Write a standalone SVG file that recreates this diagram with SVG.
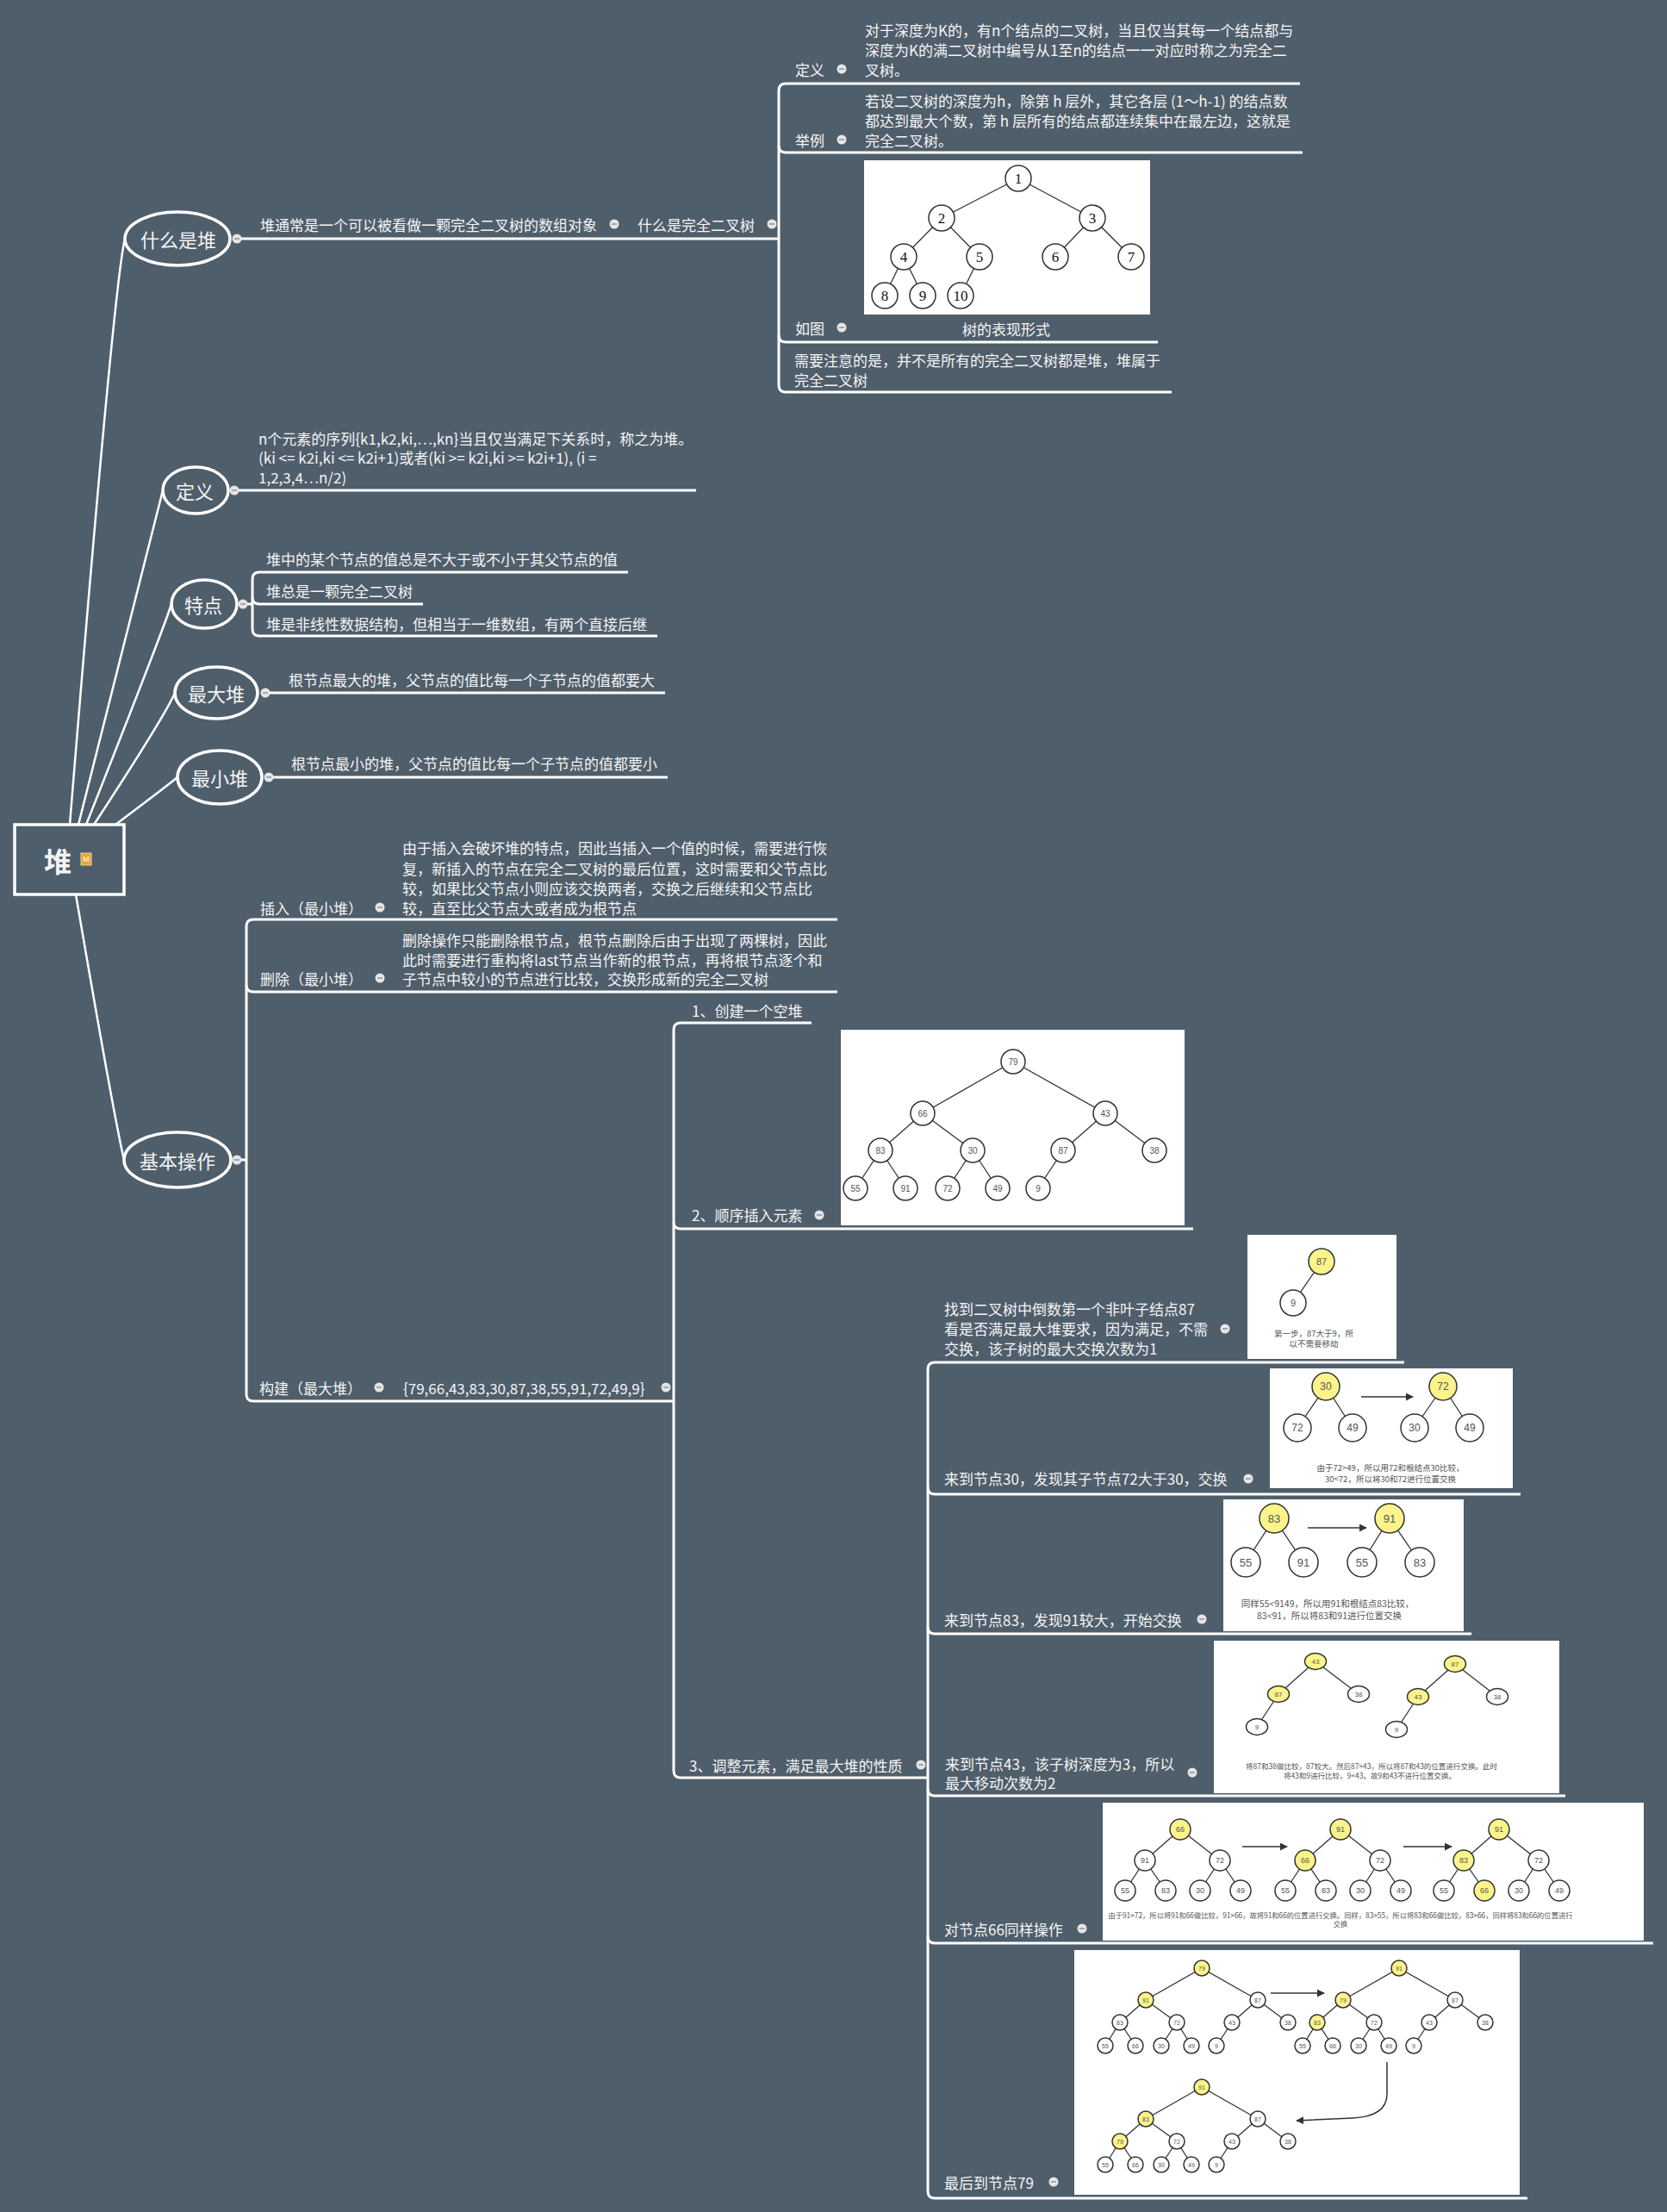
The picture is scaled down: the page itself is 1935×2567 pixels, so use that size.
<svg xmlns="http://www.w3.org/2000/svg" width="1935" height="2567" viewBox="0 0 1935 2567">
<defs>
<style>
.t{font-family:"Noto Sans CJK SC","Liberation Sans",sans-serif;fill:#f4f4f4;font-size:17px;dominant-baseline:central}
.s17{font-size:17px}
.l1{font-size:22px;text-anchor:middle}
.ln{stroke:#fff;stroke-width:3;fill:none}
.rl{stroke:#fff;stroke-width:2.5;fill:none}
.ell{stroke:#fff;stroke-width:3.5;fill:none}
.img{fill:#fff}
.e{stroke:#333;stroke-width:1.3}
.c{fill:#fff;stroke:#333;stroke-width:1.5}
.y{fill:#fbf48a;stroke:#333;stroke-width:1.5}
.n{font-family:"Liberation Sans",sans-serif;fill:#555;text-anchor:middle;dominant-baseline:central}
.tn{font-family:"Liberation Serif",serif;fill:#111;font-size:17px;text-anchor:middle;dominant-baseline:central}
.cap{font-family:"Noto Sans CJK SC","Liberation Sans",sans-serif;fill:#555;text-anchor:middle;dominant-baseline:central}
.ar{stroke:#333;stroke-width:1.5;fill:none}
</style>
<g id="dot"><circle r="5.5" fill="#e6e6e6"/><line x1="-3" x2="3" stroke="#8a95a0" stroke-width="1.5"/></g>
<marker id="ah" viewBox="0 0 10 10" refX="9" refY="5" markerWidth="6" markerHeight="6" orient="auto"><path d="M0,0 L10,5 L0,10 z" fill="#333"/></marker>
<g id="fe" class="e">
<line x1="0" y1="0" x2="-65" y2="37"/><line x1="0" y1="0" x2="65" y2="37"/>
<line x1="-65" y1="37" x2="-95" y2="63"/><line x1="-65" y1="37" x2="-29" y2="63"/>
<line x1="65" y1="37" x2="35" y2="63"/><line x1="65" y1="37" x2="100" y2="63"/>
<line x1="-95" y1="63" x2="-112" y2="90"/><line x1="-95" y1="63" x2="-77" y2="90"/>
<line x1="-29" y1="63" x2="-47" y2="90"/><line x1="-29" y1="63" x2="-12" y2="90"/>
<line x1="35" y1="63" x2="17" y2="90"/>
</g>
<g id="ee" class="e">
<line x1="0" y1="0" x2="-41" y2="36"/><line x1="0" y1="0" x2="46" y2="36"/>
<line x1="-41" y1="36" x2="-64" y2="71"/><line x1="-41" y1="36" x2="-17" y2="71"/>
<line x1="46" y1="36" x2="23" y2="71"/><line x1="46" y1="36" x2="70" y2="71"/>
</g>
</defs>
<rect width="1935" height="2567" fill="#4f5e6b"/>

<g id="connectors">
<path class="rl" d="M81,957 Q132,330 145,277"/>
<path class="rl" d="M91,957 Q178,610 189,569"/>
<path class="rl" d="M100,957 Q188,735 199,701"/>
<path class="rl" d="M109,957 Q192,830 203,804"/>
<path class="rl" d="M134,957 Q190,915 206,902"/>
<path class="rl" d="M88,1038 Q133,1300 144,1346"/>
<path class="ln" d="M280,277 H904"/>
<path class="ln" d="M1509,97 H912 Q904,97 904,105 V447 Q904,455 912,455 H1360"/>
<path class="ln" d="M904,169 Q904,177 912,177 H1512"/>
<path class="ln" d="M904,389 Q904,397 912,397 H1344"/>
<path class="ln" d="M277,569 H808"/>
<path class="ln" d="M287,701 H293"/>
<path class="ln" d="M729,664 H301 Q293,664 293,672 V730 Q293,738 301,738 H763"/>
<path class="ln" d="M293,693 Q293,701 301,701 H491"/>
<path class="ln" d="M313,804 H772"/>
<path class="ln" d="M317,902 H775"/>
<path class="ln" d="M280,1346 H286"/>
<path class="ln" d="M972,1067 H294 Q286,1067 286,1075 V1618 Q286,1626 294,1626 H782"/>
<path class="ln" d="M286,1143 Q286,1151 294,1151 H972"/>
<path class="ln" d="M942,1187 H790 Q782,1187 782,1195 V2055 Q782,2063 790,2063 H1077"/>
<path class="ln" d="M782,1418 Q782,1426 790,1426 H1385"/>
<path class="ln" d="M1630,1581 H1085 Q1077,1581 1077,1589 V2543 Q1077,2551 1085,2551 H1773"/>
<path class="ln" d="M1077,1726 Q1077,1734 1085,1734 H1765"/>
<path class="ln" d="M1077,1888 Q1077,1896 1085,1896 H1708"/>
<path class="ln" d="M1077,2076 Q1077,2084 1085,2084 H1817"/>
<path class="ln" d="M1077,2247 Q1077,2255 1085,2255 H1919"/>
</g>

<g id="root">
<rect x="17" y="957" width="127" height="81" fill="none" stroke="#fff" stroke-width="3.5"/>
<text x="67" y="998" class="t" style="font-size:32px;font-weight:bold" text-anchor="middle">堆</text>
<rect x="94" y="990" width="12" height="14" fill="#e9a43b" stroke="#f7d58a" stroke-width="1"/>
<text x="100" y="997" style="font-family:'Liberation Sans',sans-serif;font-size:9px;fill:#fff;dominant-baseline:central" text-anchor="middle">M</text>
</g>

<g id="n-shenmeshidui">
<ellipse class="ell" cx="206" cy="277" rx="61" ry="31"/>
<text class="t l1" x="207" y="277">什么是堆</text>
<use href="#dot" x="275" y="277"/>
</g>
<g id="n-duitongchang">
<text class="t s17" x="302" y="260">堆通常是一个可以被看做一颗完全二叉树的数组对象</text>
<use href="#dot" x="713" y="260"/>
</g>
<g id="n-wanquan">
<text class="t s17" x="740" y="260">什么是完全二叉树</text>
<use href="#dot" x="896" y="260"/>
</g>
<g id="n-def1">
<text class="t" x="923" y="80">定义</text>
<use href="#dot" x="977" y="80"/>
<text class="t" x="1004" y="34">对于深度为K的，有n个结点的二叉树，当且仅当其每一个结点都与</text>
<text class="t" x="1004" y="57">深度为K的满二叉树中编号从1至n的结点一一对应时称之为完全二</text>
<text class="t" x="1004" y="80">叉树。</text>
</g>
<g id="n-example">
<text class="t" x="923" y="162">举例</text>
<use href="#dot" x="977" y="162"/>
<text class="t" x="1004" y="116">若设二叉树的深度为h，除第 h 层外，其它各层 (1～h-1) 的结点数</text>
<text class="t" x="1004" y="139">都达到最大个数，第 h 层所有的结点都连续集中在最左边，这就是</text>
<text class="t" x="1004" y="162">完全二叉树。</text>
</g>
<g id="n-rutu">
<text class="t" x="923" y="380">如图</text>
<use href="#dot" x="977" y="380"/>
<rect class="img" x="1003" y="186" width="332" height="179"/>
<g class="e" stroke="#222">
<line x1="1182" y1="207" x2="1093" y2="253"/><line x1="1182" y1="207" x2="1268" y2="253"/>
<line x1="1093" y1="253" x2="1049" y2="298"/><line x1="1093" y1="253" x2="1137" y2="298"/>
<line x1="1268" y1="253" x2="1225" y2="298"/><line x1="1268" y1="253" x2="1313" y2="298"/>
<line x1="1049" y1="298" x2="1027" y2="343"/><line x1="1049" y1="298" x2="1071" y2="343"/>
<line x1="1137" y1="298" x2="1115" y2="343"/>
</g>
<g class="c" stroke="#222">
<circle cx="1182" cy="207" r="15"/><circle cx="1093" cy="253" r="15"/><circle cx="1268" cy="253" r="15"/>
<circle cx="1049" cy="298" r="15"/><circle cx="1137" cy="298" r="15"/><circle cx="1225" cy="298" r="15"/><circle cx="1313" cy="298" r="15"/>
<circle cx="1027" cy="343" r="15"/><circle cx="1071" cy="343" r="15"/><circle cx="1115" cy="343" r="15"/>
</g>
<text class="tn" x="1182" y="207">1</text><text class="tn" x="1093" y="253">2</text><text class="tn" x="1268" y="253">3</text>
<text class="tn" x="1049" y="298">4</text><text class="tn" x="1137" y="298">5</text><text class="tn" x="1225" y="298">6</text><text class="tn" x="1313" y="298">7</text>
<text class="tn" x="1027" y="343">8</text><text class="tn" x="1071" y="343">9</text><text class="tn" x="1115" y="343">10</text>
<text class="t" x="1168" y="381" text-anchor="middle">树的表现形式</text>
</g>
<g id="n-note">
<text class="t" x="922" y="417">需要注意的是，并不是所有的完全二叉树都是堆，堆属于</text>
<text class="t" x="922" y="440">完全二叉树</text>
</g>

<g id="n-dingyi">
<ellipse class="ell" cx="227" cy="569" rx="38" ry="27"/>
<text class="t l1" x="226" y="569">定义</text>
<use href="#dot" x="272" y="569"/>
<text class="t s17" x="300" y="508">n个元素的序列{k1,k2,ki,…,kn}当且仅当满足下关系时，称之为堆。</text>
<text class="t s17" x="300" y="530">(ki &lt;= k2i,ki &lt;= k2i+1)或者(ki &gt;= k2i,ki &gt;= k2i+1), (i =</text>
<text class="t s17" x="300" y="553">1,2,3,4…n/2)</text>
</g>

<g id="n-tedian">
<ellipse class="ell" cx="237" cy="701" rx="38" ry="28"/>
<text class="t l1" x="236" y="701">特点</text>
<use href="#dot" x="282" y="701"/>
<text class="t s17" x="309" y="648">堆中的某个节点的值总是不大于或不小于其父节点的值</text>
<text class="t s17" x="309" y="685">堆总是一颗完全二叉树</text>
<text class="t s17" x="309" y="723">堆是非线性数据结构，但相当于一维数组，有两个直接后继</text>
</g>

<g id="n-zuidadui">
<ellipse class="ell" cx="251" cy="804" rx="48" ry="30"/>
<text class="t l1" x="251" y="804">最大堆</text>
<use href="#dot" x="308" y="804"/>
<text class="t s17" x="335" y="788">根节点最大的堆，父节点的值比每一个子节点的值都要大</text>
</g>

<g id="n-zuixiaodui">
<ellipse class="ell" cx="255" cy="902" rx="49" ry="31"/>
<text class="t l1" x="255" y="902">最小堆</text>
<use href="#dot" x="312" y="902"/>
<text class="t s17" x="338" y="885">根节点最小的堆，父节点的值比每一个子节点的值都要小</text>
</g>

<g id="n-jibencaozuo">
<ellipse class="ell" cx="206" cy="1346" rx="62" ry="32"/>
<text class="t l1" x="206" y="1346">基本操作</text>
<use href="#dot" x="275" y="1346"/>
</g>

<g id="n-insert">
<text class="t s17" x="302" y="1053">插入（最小堆）</text>
<use href="#dot" x="441" y="1053"/>
<text class="t" x="467" y="983">由于插入会破坏堆的特点，因此当插入一个值的时候，需要进行恢</text>
<text class="t" x="467" y="1007">复，新插入的节点在完全二叉树的最后位置，这时需要和父节点比</text>
<text class="t" x="467" y="1030">较，如果比父节点小则应该交换两者，交换之后继续和父节点比</text>
<text class="t" x="467" y="1053">较，直至比父节点大或者成为根节点</text>
</g>
<g id="n-delete">
<text class="t s17" x="302" y="1135">删除（最小堆）</text>
<use href="#dot" x="441" y="1135"/>
<text class="t" x="467" y="1090">删除操作只能删除根节点，根节点删除后由于出现了两棵树，因此</text>
<text class="t" x="467" y="1113">此时需要进行重构将last节点当作新的根节点，再将根节点逐个和</text>
<text class="t" x="467" y="1135">子节点中较小的节点进行比较，交换形成新的完全二叉树</text>
</g>
<g id="n-build">
<text class="t s17" x="301" y="1610">构建（最大堆）</text>
<use href="#dot" x="440" y="1610"/>
<text class="t" x="468" y="1610">{79,66,43,83,30,87,38,55,91,72,49,9}</text>
<use href="#dot" x="773" y="1610"/>
</g>
<g id="n-step1">
<text class="t" x="803" y="1172">1、创建一个空堆</text>
</g>
<g id="n-step2">
<text class="t" x="803" y="1409">2、顺序插入元素</text>
<use href="#dot" x="951" y="1410"/>
<rect class="img" x="976" y="1195" width="399" height="227"/>
<g class="e">
<line x1="1176" y1="1232" x2="1071" y2="1292"/><line x1="1176" y1="1232" x2="1283" y2="1292"/>
<line x1="1071" y1="1292" x2="1022" y2="1335"/><line x1="1071" y1="1292" x2="1129" y2="1335"/>
<line x1="1283" y1="1292" x2="1234" y2="1335"/><line x1="1283" y1="1292" x2="1340" y2="1335"/>
<line x1="1022" y1="1335" x2="993" y2="1379"/><line x1="1022" y1="1335" x2="1051" y2="1379"/>
<line x1="1129" y1="1335" x2="1100" y2="1379"/><line x1="1129" y1="1335" x2="1158" y2="1379"/>
<line x1="1234" y1="1335" x2="1205" y2="1379"/>
</g>
<g class="c">
<circle cx="1176" cy="1232" r="14"/><circle cx="1071" cy="1292" r="14"/><circle cx="1283" cy="1292" r="14"/>
<circle cx="1022" cy="1335" r="14"/><circle cx="1129" cy="1335" r="14"/><circle cx="1234" cy="1335" r="14"/><circle cx="1340" cy="1335" r="14"/>
<circle cx="993" cy="1379" r="14"/><circle cx="1051" cy="1379" r="14"/><circle cx="1100" cy="1379" r="14"/><circle cx="1158" cy="1379" r="14"/><circle cx="1205" cy="1379" r="14"/>
</g>
<g class="n" style="font-size:10px">
<text x="1176" y="1232">79</text><text x="1071" y="1292">66</text><text x="1283" y="1292">43</text>
<text x="1022" y="1335">83</text><text x="1129" y="1335">30</text><text x="1234" y="1335">87</text><text x="1340" y="1335">38</text>
<text x="993" y="1379">55</text><text x="1051" y="1379">91</text><text x="1100" y="1379">72</text><text x="1158" y="1379">49</text><text x="1205" y="1379">9</text>
</g>
</g>
<g id="n-step3">
<text class="t" x="800" y="2048">3、调整元素，满足最大堆的性质</text>
<use href="#dot" x="1069" y="2048"/>
</g>

<g id="n-a">
<text class="t" x="1096" y="1518">找到二叉树中倒数第一个非叶子结点87</text>
<text class="t" x="1096" y="1541">看是否满足最大堆要求，因为满足，不需</text>
<text class="t" x="1096" y="1564">交换，该子树的最大交换次数为1</text>
<use href="#dot" x="1422" y="1542"/>
<rect class="img" x="1448" y="1433" width="173" height="144"/>
<line class="e" x1="1534" y1="1464" x2="1501" y2="1512"/>
<circle class="y" cx="1534" cy="1464" r="15"/><circle class="c" cx="1501" cy="1512" r="15"/>
<g class="n" style="font-size:11px"><text x="1534" y="1464">87</text><text x="1501" y="1512">9</text></g>
<g class="cap" style="font-size:9.5px"><text x="1525" y="1547">第一步，87大于9，所</text><text x="1525" y="1559">以不需要移动</text></g>
</g>

<g id="n-b">
<text class="t" x="1096" y="1715">来到节点30，发现其子节点72大于30，交换</text>
<use href="#dot" x="1449" y="1716"/>
<rect class="img" x="1474" y="1588" width="282" height="139"/>
<g class="e">
<line x1="1539" y1="1609" x2="1506" y2="1657"/><line x1="1539" y1="1609" x2="1570" y2="1657"/>
<line x1="1675" y1="1609" x2="1642" y2="1657"/><line x1="1675" y1="1609" x2="1706" y2="1657"/>
</g>
<line class="ar" x1="1580" y1="1621" x2="1640" y2="1621" marker-end="url(#ah)"/>
<circle class="y" cx="1539" cy="1609" r="16"/><circle class="c" cx="1506" cy="1657" r="16"/><circle class="c" cx="1570" cy="1657" r="16"/>
<circle class="y" cx="1675" cy="1609" r="16"/><circle class="c" cx="1642" cy="1657" r="16"/><circle class="c" cx="1706" cy="1657" r="16"/>
<g class="n" style="font-size:12px">
<text x="1539" y="1609">30</text><text x="1506" y="1657">72</text><text x="1570" y="1657">49</text>
<text x="1675" y="1609">72</text><text x="1642" y="1657">30</text><text x="1706" y="1657">49</text>
</g>
<g class="cap" style="font-size:9.5px"><text x="1614" y="1703">由于72&gt;49，所以用72和根结点30比较，</text><text x="1614" y="1716">30&lt;72，所以将30和72进行位置交换</text></g>
</g>

<g id="n-c">
<text class="t" x="1096" y="1879">来到节点83，发现91较大，开始交换</text>
<use href="#dot" x="1395" y="1879"/>
<rect class="img" x="1420" y="1740" width="279" height="153"/>
<g class="e">
<line x1="1479" y1="1762" x2="1446" y2="1813"/><line x1="1479" y1="1762" x2="1513" y2="1813"/>
<line x1="1613" y1="1762" x2="1581" y2="1813"/><line x1="1613" y1="1762" x2="1648" y2="1813"/>
</g>
<line class="ar" x1="1518" y1="1773" x2="1586" y2="1773" marker-end="url(#ah)"/>
<circle class="y" cx="1479" cy="1762" r="17"/><circle class="c" cx="1446" cy="1813" r="17"/><circle class="c" cx="1513" cy="1813" r="17"/>
<circle class="y" cx="1613" cy="1762" r="17"/><circle class="c" cx="1581" cy="1813" r="17"/><circle class="c" cx="1648" cy="1813" r="17"/>
<g class="n" style="font-size:13px">
<text x="1479" y="1762">83</text><text x="1446" y="1813">55</text><text x="1513" y="1813">91</text>
<text x="1613" y="1762">91</text><text x="1581" y="1813">55</text><text x="1648" y="1813">83</text>
</g>
<g class="cap" style="font-size:10.5px"><text x="1541" y="1860">同样55&lt;9149，所以用91和根结点83比较，</text><text x="1543" y="1874">83&lt;91，所以将83和91进行位置交换</text></g>
</g>

<g id="n-d">
<text class="t" x="1097" y="2046">来到节点43，该子树深度为3，所以</text>
<text class="t" x="1097" y="2068">最大移动次数为2</text>
<use href="#dot" x="1384" y="2057"/>
<rect class="img" x="1409" y="1904" width="401" height="177"/>
<g transform="translate(1527,1928)">
<g class="e"><line x1="0" y1="0" x2="-43" y2="38"/><line x1="0" y1="0" x2="50" y2="38"/><line x1="-43" y1="38" x2="-68" y2="76"/></g>
<ellipse class="y" cx="0" cy="0" rx="12.5" ry="9.5"/><ellipse class="y" cx="-43" cy="38" rx="12.5" ry="9.5"/><ellipse class="c" cx="50" cy="38" rx="12.5" ry="9.5"/><ellipse class="c" cx="-68" cy="76" rx="12.5" ry="9.5"/>
<g class="n" style="font-size:8px"><text x="0" y="0">43</text><text x="-43" y="38">87</text><text x="50" y="38">38</text><text x="-68" y="76">9</text></g>
</g>
<g transform="translate(1689,1931)">
<g class="e"><line x1="0" y1="0" x2="-43" y2="38"/><line x1="0" y1="0" x2="49" y2="38"/><line x1="-43" y1="38" x2="-68" y2="76"/></g>
<ellipse class="y" cx="0" cy="0" rx="12.5" ry="9.5"/><ellipse class="y" cx="-43" cy="38" rx="12.5" ry="9.5"/><ellipse class="c" cx="49" cy="38" rx="12.5" ry="9.5"/><ellipse class="c" cx="-68" cy="76" rx="12.5" ry="9.5"/>
<g class="n" style="font-size:8px"><text x="0" y="0">87</text><text x="-43" y="38">43</text><text x="49" y="38">38</text><text x="-68" y="76">9</text></g>
</g>
<g class="cap" style="font-size:8.5px"><text x="1592" y="2049">将87和38做比较，87较大。然后87&gt;43，所以将87和43的位置进行交换。此时</text><text x="1590" y="2060">将43和9进行比较，9&lt;43。故9和43不进行位置交换。</text></g>
</g>

<g id="n-e">
<text class="t" x="1096" y="2238">对节点66同样操作</text>
<use href="#dot" x="1256" y="2238"/>
<rect class="img" x="1280" y="2092" width="628" height="160"/>
<line class="ar" x1="1442" y1="2143" x2="1494" y2="2143" marker-end="url(#ah)"/>
<line class="ar" x1="1629" y1="2143" x2="1685" y2="2143" marker-end="url(#ah)"/>
<g transform="translate(1370,2123)">
<use href="#ee"/>
<circle class="y" cx="0" cy="0" r="12"/><circle class="c" cx="-41" cy="36" r="12"/><circle class="c" cx="46" cy="36" r="12"/>
<circle class="c" cx="-64" cy="71" r="12"/><circle class="c" cx="-17" cy="71" r="12"/><circle class="c" cx="23" cy="71" r="12"/><circle class="c" cx="70" cy="71" r="12"/>
<g class="n" style="font-size:9px"><text x="0" y="0">66</text><text x="-41" y="36">91</text><text x="46" y="36">72</text><text x="-64" y="71">55</text><text x="-17" y="71">83</text><text x="23" y="71">30</text><text x="70" y="71">49</text></g>
</g>
<g transform="translate(1556,2123)">
<use href="#ee"/>
<circle class="y" cx="0" cy="0" r="12"/><circle class="y" cx="-41" cy="36" r="12"/><circle class="c" cx="46" cy="36" r="12"/>
<circle class="c" cx="-64" cy="71" r="12"/><circle class="c" cx="-17" cy="71" r="12"/><circle class="c" cx="23" cy="71" r="12"/><circle class="c" cx="70" cy="71" r="12"/>
<g class="n" style="font-size:9px"><text x="0" y="0">91</text><text x="-41" y="36">66</text><text x="46" y="36">72</text><text x="-64" y="71">55</text><text x="-17" y="71">83</text><text x="23" y="71">30</text><text x="70" y="71">49</text></g>
</g>
<g transform="translate(1740,2123)">
<use href="#ee"/>
<circle class="y" cx="0" cy="0" r="12"/><circle class="y" cx="-41" cy="36" r="12"/><circle class="c" cx="46" cy="36" r="12"/>
<circle class="c" cx="-64" cy="71" r="12"/><circle class="y" cx="-17" cy="71" r="12"/><circle class="c" cx="23" cy="71" r="12"/><circle class="c" cx="70" cy="71" r="12"/>
<g class="n" style="font-size:9px"><text x="0" y="0">91</text><text x="-41" y="36">83</text><text x="46" y="36">72</text><text x="-64" y="71">55</text><text x="-17" y="71">66</text><text x="23" y="71">30</text><text x="70" y="71">49</text></g>
</g>
<g class="cap" style="font-size:8.3px"><text x="1556" y="2222">由于91&gt;72，所以将91和66做比较，91&gt;66，故将91和66的位置进行交换。同样，83&gt;55，所以将83和66做比较，83&gt;66，同样将83和66的位置进行</text><text x="1556" y="2232">交换</text></g>
</g>

<g id="n-f">
<text class="t" x="1096" y="2532">最后到节点79</text>
<use href="#dot" x="1223" y="2532"/>
<rect class="img" x="1247" y="2263" width="517" height="284"/>
<line class="ar" x1="1475" y1="2313" x2="1537" y2="2313" marker-end="url(#ah)"/>
<path class="ar" d="M1610,2393 V2430 Q1610,2456 1570,2458 L1505,2461" marker-end="url(#ah)"/>
<g transform="translate(1395,2284)">
<use href="#fe"/>
<g class="c"><circle cx="65" cy="37" r="9"/><circle cx="-95" cy="63" r="9"/><circle cx="-29" cy="63" r="9"/><circle cx="35" cy="63" r="9"/><circle cx="100" cy="63" r="9"/><circle cx="-112" cy="90" r="9"/><circle cx="-77" cy="90" r="9"/><circle cx="-47" cy="90" r="9"/><circle cx="-12" cy="90" r="9"/><circle cx="17" cy="90" r="9"/></g>
<circle class="y" cx="0" cy="0" r="9"/><circle class="y" cx="-65" cy="37" r="9"/>
<g class="n" style="font-size:7px"><text x="0" y="0">79</text><text x="-65" y="37">91</text><text x="65" y="37">87</text><text x="-95" y="63">83</text><text x="-29" y="63">72</text><text x="35" y="63">43</text><text x="100" y="63">38</text><text x="-112" y="90">55</text><text x="-77" y="90">66</text><text x="-47" y="90">30</text><text x="-12" y="90">49</text><text x="17" y="90">9</text></g>
</g>
<g transform="translate(1624,2284)">
<use href="#fe"/>
<g class="c"><circle cx="65" cy="37" r="9"/><circle cx="-29" cy="63" r="9"/><circle cx="35" cy="63" r="9"/><circle cx="100" cy="63" r="9"/><circle cx="-112" cy="90" r="9"/><circle cx="-77" cy="90" r="9"/><circle cx="-47" cy="90" r="9"/><circle cx="-12" cy="90" r="9"/><circle cx="17" cy="90" r="9"/></g>
<circle class="y" cx="0" cy="0" r="9"/><circle class="y" cx="-65" cy="37" r="9"/><circle class="y" cx="-95" cy="63" r="9"/>
<g class="n" style="font-size:7px"><text x="0" y="0">91</text><text x="-65" y="37">79</text><text x="65" y="37">87</text><text x="-95" y="63">83</text><text x="-29" y="63">72</text><text x="35" y="63">43</text><text x="100" y="63">38</text><text x="-112" y="90">55</text><text x="-77" y="90">66</text><text x="-47" y="90">30</text><text x="-12" y="90">49</text><text x="17" y="90">9</text></g>
</g>
<g transform="translate(1395,2422)">
<use href="#fe"/>
<g class="c"><circle cx="65" cy="37" r="9"/><circle cx="-29" cy="63" r="9"/><circle cx="35" cy="63" r="9"/><circle cx="100" cy="63" r="9"/><circle cx="-112" cy="90" r="9"/><circle cx="-77" cy="90" r="9"/><circle cx="-47" cy="90" r="9"/><circle cx="-12" cy="90" r="9"/><circle cx="17" cy="90" r="9"/></g>
<circle class="y" cx="0" cy="0" r="9"/><circle class="y" cx="-65" cy="37" r="9"/><circle class="y" cx="-95" cy="63" r="9"/>
<g class="n" style="font-size:7px"><text x="0" y="0">91</text><text x="-65" y="37">83</text><text x="65" y="37">87</text><text x="-95" y="63">79</text><text x="-29" y="63">72</text><text x="35" y="63">43</text><text x="100" y="63">38</text><text x="-112" y="90">55</text><text x="-77" y="90">66</text><text x="-47" y="90">30</text><text x="-12" y="90">49</text><text x="17" y="90">9</text></g>
</g>
</g>
</svg>
